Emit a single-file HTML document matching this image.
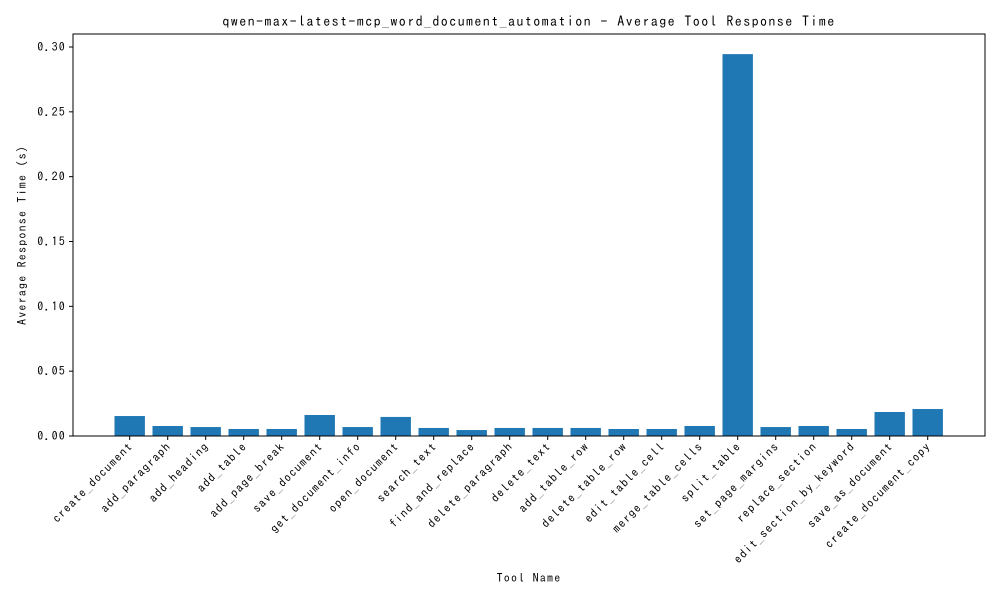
<!DOCTYPE html>
<html><head><meta charset="utf-8"><style>
html,body{margin:0;padding:0;background:#fff;}
svg{display:block;font-family:"WenQuanYi Zen Hei Mono","WenQuanYi Zen Hei","IPAGothic","Liberation Mono",monospace;}
text{letter-spacing:0.1em;}
</style></head><body>
<svg id="chart" width="1000" height="600" viewBox="0 0 1000 600">
<text x="529" y="26" font-size="14" text-anchor="middle" fill="#000">qwen-max-latest-mcp_word_document_automation - Average Tool Response Time</text>
<g id="bars"></g>
<g id="yaxis"></g>
<g id="xaxis"></g>
<rect x="73" y="34" width="912" height="402" fill="none" stroke="#000" stroke-width="1"/>
<text x="529" y="582" font-size="12" text-anchor="middle">Tool Name</text>
<text transform="translate(26,235) rotate(-90)" font-size="12" text-anchor="middle">Average Response Time (s)</text>
</svg>
<script>
const categories=["create_document","add_paragraph","add_heading","add_table","add_page_break","save_document","get_document_info","open_document","search_text","find_and_replace","delete_paragraph","delete_text","add_table_row","delete_table_row","edit_table_cell","merge_table_cells","split_table","set_page_margins","replace_section","edit_section_by_keyword","save_as_document","create_document_copy"];
const values=[0.0154,0.0077,0.0069,0.0054,0.0054,0.0162,0.0069,0.0147,0.0062,0.0046,0.0062,0.0062,0.0062,0.0054,0.0054,0.0077,0.2945,0.0069,0.0077,0.0054,0.0185,0.0208];
const yTicks=[0,0.05,0.10,0.15,0.20,0.25,0.30];
const yTickLabels=["0.00","0.05","0.10","0.15","0.20","0.25","0.30"];
const NS="http://www.w3.org/2000/svg";
const y0=436,pxPerUnit=(436-47)/0.30;
function yScale(v){return y0-v*pxPerUnit;}
const step=38,xStart=129.7;
function xScale(i){return xStart+i*step;}
function mk(t,a){const e=document.createElementNS(NS,t);for(const k in a)e.setAttribute(k,a[k]);return e;}
const bars=document.getElementById('bars'),xa=document.getElementById('xaxis'),ya=document.getElementById('yaxis');
categories.forEach((c,i)=>{
 const cx=xScale(i),w=step*0.8,v=values[i];
 const r=mk('rect',{x:cx-w/2,y:yScale(v),width:w,height:y0-yScale(v),fill:'#1f77b4'});
 
 
 bars.appendChild(r);
 const t=mk('line',{x1:cx,x2:cx,y1:y0,y2:y0+4,stroke:'#000'});
 
 
 xa.appendChild(t);
 const l=mk('text',{transform:`translate(${cx+4},${y0+11}) rotate(-45)`,'font-size':12,'text-anchor':'end'});
 l.textContent=c;
 
 
 xa.appendChild(l);
});
yTicks.forEach((v,i)=>{
 const y=yScale(v);
 const t=mk('line',{x1:69,x2:73,y1:y,y2:y,stroke:'#000'});
 
 
 ya.appendChild(t);
 const l=mk('text',{x:66,y:y+4,'font-size':12,'text-anchor':'end'});
 l.textContent=yTickLabels[i];
 
 
 ya.appendChild(l);
});
</script>
</body></html>
